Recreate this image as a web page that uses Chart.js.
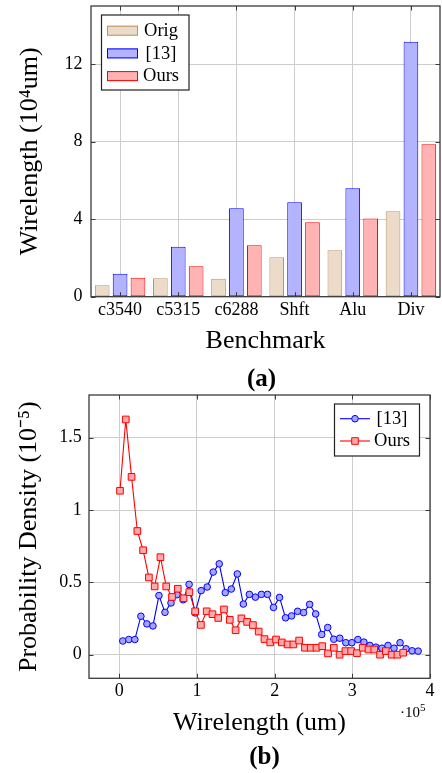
<!DOCTYPE html>
<html lang="en">
<head>
  <meta charset="UTF-8" />
  <title>Wirelength comparison</title>
  <script src="https://cdn.jsdelivr.net/npm/chart.js"></script>
  <style>
    html, body { margin: 0; padding: 0; background: #fff; }
    .figura { position: relative; width: 442px; height: 773px; overflow: hidden; }
    #chartBarras { position: absolute; left: 0; top: 0; }
    #chartDensidade { position: absolute; left: 0; top: 385px; }
  </style>
</head>
<body>
  <div class="figura">
    <canvas id="chartBarras" width="442" height="400"></canvas>
    <canvas id="chartDensidade" width="442" height="388"></canvas>
  </div>

  <script>
    // (a) wirelength per benchmark, in 10^4 um
    const benchmarks = ['c3540', 'c5315', 'c6288', 'Shft', 'Alu', 'Div'];
    const wlOrig = [0.59, 0.95, 0.93, 2.03, 2.40, 4.41];
    const wlRef13 = [1.19, 2.58, 4.56, 4.87, 5.60, 13.16];
    const wlOurs = [0.98, 1.57, 2.65, 3.84, 4.03, 7.87];
    const barTicksY = [0, 4, 8, 12];

    // (b) probability density (10^-5) against wirelength (um)
    const densRef13X = [4500, 12260, 20020, 27780, 35540, 43300, 51060, 58820, 66580, 74340,
      82100, 89860, 97620, 105380, 113140, 120900, 128660, 136420, 144180, 151940,
      159700, 167460, 175220, 182980, 190740, 198500, 206260, 214020, 221780, 229540,
      237300, 245060, 252820, 260580, 268340, 276100, 283860, 291620, 299380, 307140,
      314900, 322660, 330420, 338180, 345940, 353700, 361460, 369220, 376980, 384740];
    const densRef13Y = [0.095, 0.105, 0.105, 0.266, 0.213, 0.199, 0.409, 0.293, 0.358, 0.415,
      0.38, 0.486, 0.289, 0.443, 0.468, 0.571, 0.628, 0.429, 0.454, 0.558,
      0.35, 0.417, 0.398, 0.417, 0.417, 0.327, 0.396, 0.255, 0.268, 0.30,
      0.291, 0.348, 0.282, 0.14, 0.188, 0.107, 0.114, 0.083, 0.083, 0.105,
      0.087, 0.064, 0.052, 0.045, 0.064, 0.045, 0.083, 0.041, 0.027, 0.025];
    const densOursX = [900, 8340, 15780, 23220, 30660, 38100, 45540, 52980, 60420, 67860,
      75300, 82740, 90180, 97620, 105060, 112500, 119940, 127380, 134820, 142260,
      149700, 157140, 164580, 172020, 179460, 186900, 194340, 201780, 209220, 216660,
      224100, 231540, 238980, 246420, 253860, 261300, 268740, 276180, 283620, 291060,
      298500, 305940, 313380, 320820, 328260, 335700, 343140, 350580, 358020, 365460];
    const densOursY = [1.133, 1.626, 1.229, 0.855, 0.722, 0.534, 0.472, 0.674, 0.472, 0.399,
      0.456, 0.39, 0.432, 0.30, 0.206, 0.30, 0.28, 0.254, 0.313, 0.241,
      0.169, 0.251, 0.227, 0.205, 0.16, 0.108, 0.085, 0.105, 0.085, 0.071,
      0.071, 0.098, 0.048, 0.048, 0.048, 0.059, 0.009, 0.048, 0.0, 0.025,
      0.025, 0.011, 0.048, 0.036, 0.036, 0.0, 0.025, 0.0, 0.0, 0.014];
    const densTicksX = [0, 1, 2, 3, 4];   // x 10^5
    const densTicksY = [0, 0.5, 1, 1.5];

    const serif = "'Liberation Serif', 'Times New Roman', serif";
    const corGrade = '#cdcdcd';
    const corMoldura = '#3a3a3a';

    Chart.defaults.font.family = serif;
    Chart.defaults.color = '#000';

    // tamanho fixo dos eixos, sem a folga automatica dos rotulos
    const fixaLargura = w => s => { s.width = w; s.paddingTop = 0; s.paddingBottom = 0; };
    const fixaAltura = h => s => { s.height = h; s.paddingLeft = 0; s.paddingRight = 0; };

    // caixa do eixo estilo pgfplots, com tracinhos para dentro
    const moldura = {
      id: 'moldura',
      afterDatasetsDraw(chart) {
        const { ctx, chartArea: a, scales } = chart;
        ctx.save();
        ctx.strokeStyle = corMoldura;
        ctx.lineWidth = 1;
        ctx.beginPath();
        scales.y.ticks.forEach(t => {
          const y = Math.round(scales.y.getPixelForValue(t.value)) + 0.5;
          ctx.moveTo(a.left, y); ctx.lineTo(a.left + 4.5, y);
          ctx.moveTo(a.right, y); ctx.lineTo(a.right - 4.5, y);
        });
        scales.x.ticks.forEach((t, i) => {
          const v = scales.x.type === 'category' ? i : t.value;
          const x = Math.round(scales.x.getPixelForValue(v)) + 0.5;
          ctx.moveTo(x, a.bottom); ctx.lineTo(x, a.bottom - 4.5);
          ctx.moveTo(x, a.top); ctx.lineTo(x, a.top + 4.5);
        });
        ctx.stroke();
        ctx.lineWidth = 1.3;
        ctx.strokeRect(a.left, a.top, a.right - a.left, a.bottom - a.top);
        ctx.restore();
      }
    };

    const legendaBarras = {
      id: 'legendaBarras',
      afterDraw(chart) {
        const ctx = chart.ctx;
        ctx.save();
        ctx.fillStyle = '#fff';
        ctx.fillRect(101.5, 15, 87.5, 75);
        ctx.strokeStyle = '#222';
        ctx.lineWidth = 1.2;
        ctx.strokeRect(101.5, 15, 87.5, 75);
        ctx.font = `18.5px ${serif}`;
        ctx.textAlign = 'center';
        ctx.textBaseline = 'middle';
        chart.data.datasets.forEach((ds, i) => {
          const y = 30.7 + i * 22.7;
          ctx.fillStyle = ds.backgroundColor;
          ctx.fillRect(107, y - 5, 31, 10);
          ctx.strokeStyle = ds.borderColor;
          ctx.lineWidth = 1;
          ctx.strokeRect(107.5, y - 4.5, 30, 9);
          ctx.fillStyle = '#000';
          ctx.fillText(ds.label, 161, y + 0.5);
        });
        // legenda da figura
        ctx.font = `bold 25px ${serif}`;
        ctx.fillText('(a)', 261.5, 380);
        ctx.restore();
      }
    };

    const legendaDensidade = {
      id: 'legendaDensidade',
      afterDraw(chart) {
        const ctx = chart.ctx;
        ctx.save();
        ctx.fillStyle = '#fff';
        ctx.fillRect(334.5, 19, 85, 52);
        ctx.strokeStyle = '#222';
        ctx.lineWidth = 1.2;
        ctx.strokeRect(334.5, 19, 85, 52);
        ctx.font = `18.5px ${serif}`;
        ctx.textAlign = 'center';
        ctx.textBaseline = 'middle';
        chart.data.datasets.forEach((ds, i) => {
          const y = 33.7 + i * 22.3;
          ctx.strokeStyle = ds.borderColor;
          ctx.lineWidth = 1.1;
          ctx.beginPath();
          ctx.moveTo(340, y); ctx.lineTo(370, y);
          ctx.stroke();
          ctx.fillStyle = ds.backgroundColor;
          ctx.lineWidth = 1;
          ctx.beginPath();
          if (ds.pointStyle === 'rect') {
            ctx.rect(351.7, y - 3.3, 6.6, 6.6);
          } else {
            ctx.arc(355, y, 3.3, 0, Math.PI * 2);
          }
          ctx.fill();
          ctx.stroke();
          ctx.fillStyle = '#000';
          ctx.fillText(ds.label, 392, y + 0.5);
        });
        // multiplicador do eixo x
        ctx.textAlign = 'left';
        ctx.textBaseline = 'alphabetic';
        ctx.font = `15px ${serif}`;
        ctx.fillText('·10', 400, 332.3);
        const w = ctx.measureText('·10').width;
        ctx.font = `11px ${serif}`;
        ctx.fillText('5', 400 + w, 326);
        ctx.font = `bold 25px ${serif}`;
        ctx.textAlign = 'center';
        ctx.textBaseline = 'middle';
        ctx.fillText('(b)', 264.5, 373);
        ctx.restore();
      }
    };

    new Chart(document.getElementById('chartBarras'), {
      type: 'bar',
      data: {
        labels: benchmarks,
        datasets: [{
          label: 'Orig',
          data: wlOrig,
          backgroundColor: 'rgb(236, 219, 200)',
          borderColor: 'rgb(191, 145, 97)'
        }, {
          label: '[13]',
          data: wlRef13,
          backgroundColor: 'rgb(179, 179, 255)',
          borderColor: 'rgb(0, 0, 255)'
        }, {
          label: 'Ours',
          data: wlOurs,
          backgroundColor: 'rgb(255, 179, 179)',
          borderColor: 'rgb(255, 0, 0)'
        }]
      },
      options: {
        responsive: false,
        animation: false,
        devicePixelRatio: 1,
        layout: { padding: { top: 6, right: 2, bottom: 35, left: 0 } },
        datasets: {
          bar: {
            borderWidth: 1,
            borderSkipped: false,
            categoryPercentage: 0.923,
            barPercentage: 0.82
          }
        },
        plugins: {
          legend: { display: false },
          tooltip: { enabled: false }
        },
        scales: {
          x: {
            offset: true,
            grid: { offset: false, color: corGrade, drawTicks: false },
            border: { display: false },
            ticks: { padding: 2.5, font: { size: 18 } },
            title: { display: true, text: 'Benchmark', font: { size: 26 }, padding: { top: 0, bottom: 8.4 } },
            afterFit: fixaAltura(68.3)
          },
          y: {
            min: 0,
            max: 15,
            afterBuildTicks: s => { s.ticks = barTicksY.map(v => ({ value: v })); },
            grid: { color: corGrade, drawTicks: false },
            border: { display: false },
            ticks: { padding: 8.5, font: { size: 18 }, callback: v => String(v) },
            title: { display: true, text: 'Wirelength (10⁴um)', font: { size: 26 }, padding: { top: 14.4, bottom: 0 } },
            afterFit: fixaLargura(91)
          }
        }
      },
      plugins: [moldura, legendaBarras]
    });

    new Chart(document.getElementById('chartDensidade'), {
      type: 'line',
      data: {
        datasets: [{
          label: '[13]',
          data: densRef13X.map((x, i) => ({ x, y: densRef13Y[i] })),
          borderColor: 'rgb(0, 0, 255)',
          backgroundColor: 'rgb(165, 165, 255)',
          pointStyle: 'circle',
          pointRadius: 3.3,
          order: 2
        }, {
          label: 'Ours',
          data: densOursX.map((x, i) => ({ x, y: densOursY[i] })),
          borderColor: 'rgb(255, 0, 0)',
          backgroundColor: 'rgb(255, 170, 170)',
          pointStyle: 'rect',
          pointRadius: 4.7,
          order: 1
        }]
      },
      options: {
        responsive: false,
        animation: false,
        devicePixelRatio: 1,
        layout: { padding: { top: 10, right: 12, bottom: 30, left: 0 } },
        datasets: {
          line: { borderWidth: 1.1, pointBorderWidth: 1, tension: 0, fill: false }
        },
        plugins: {
          legend: { display: false },
          tooltip: { enabled: false }
        },
        scales: {
          x: {
            type: 'linear',
            min: -39000,
            max: 400000,
            afterBuildTicks: s => { s.ticks = densTicksX.map(v => ({ value: v * 1e5 })); },
            grid: { color: corGrade, drawTicks: false },
            border: { display: false },
            ticks: { padding: 2.6, font: { size: 18 }, callback: v => String(v / 1e5) },
            title: { display: true, text: 'Wirelength (um)', font: { size: 26 }, padding: { top: 0, bottom: 4.1 } },
            afterFit: fixaAltura(64.7)
          },
          y: {
            min: -0.163,
            max: 1.795,
            afterBuildTicks: s => { s.ticks = densTicksY.map(v => ({ value: v })); },
            grid: { color: corGrade, drawTicks: false },
            border: { display: false },
            ticks: { padding: 7.3, font: { size: 18 }, callback: v => String(v) },
            title: { display: true, text: 'Probability Density (10⁻⁵)', font: { size: 26 }, padding: { top: 13.4, bottom: 0 } },
            afterFit: fixaLargura(89)
          }
        }
      },
      plugins: [moldura, legendaDensidade]
    });
  </script>
</body>
</html>
